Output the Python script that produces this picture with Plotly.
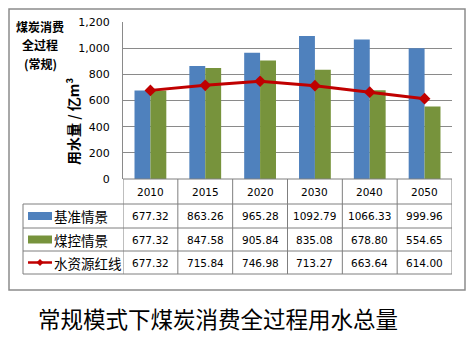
import plotly.graph_objects as go

years = ["2010", "2015", "2020", "2030", "2040", "2050"]
baseline = [677.32, 863.26, 965.28, 1092.79, 1066.33, 999.96]
controlled = [677.32, 847.58, 905.84, 835.08, 678.80, 554.65]
redline = [677.32, 715.84, 746.98, 713.27, 663.64, 614.00]
series_names = ["基准情景", "煤控情景", "水资源红线"]
y_ticks = [0, 200, 400, 600, 800, 1000, 1200]

BLUE = "#4F81BD"
GREEN = "#77933C"
RED = "#C00000"
GRID = "#8A8A8A"

W, H = 473, 341
L, R, T, B = 123, 21, 22, 162
PW = W - L - R
PH = H - T - B
PLOT_BOTTOM = H - B


def px(x):
    return (x - L) / PW


def py(y):
    return (PLOT_BOTTOM - y) / PH


fig = go.Figure()
fig.add_trace(go.Bar(x=years, y=baseline, name=series_names[0], marker_color=BLUE, marker_line_width=0))
fig.add_trace(go.Bar(x=years, y=controlled, name=series_names[1], marker_color=GREEN, marker_line_width=0))
fig.add_trace(go.Scatter(x=years, y=redline, name=series_names[2], mode="lines+markers",
                         line=dict(color=RED, width=3),
                         marker=dict(symbol="diamond", size=9, color=RED)))

shapes = []
annotations = []
line_style = dict(color="#7F7F7F", width=1)

row_edges = [PLOT_BOTTOM, 204, 228, 251, 274]
table_left = 23

for i, y in enumerate(row_edges):
    x0 = px(table_left) if i >= 1 else 0
    shapes.append(dict(type="line", xref="paper", yref="paper", x0=x0, x1=1, y0=py(y), y1=py(y), line=line_style))
for k in range(len(years) + 1):
    shapes.append(dict(type="line", xref="x", yref="paper", x0=k - 0.5, x1=k - 0.5,
                       y0=py(row_edges[0]), y1=py(row_edges[-1]), line=line_style))
shapes.append(dict(type="line", xref="paper", yref="paper", x0=px(table_left), x1=px(table_left),
                   y0=py(row_edges[1]), y1=py(row_edges[-1]), line=line_style))


def ann(x, y, text, font, xref="paper", xanchor="center", **kw):
    d = dict(x=x, xref=xref, y=y, yref="paper", text=text, showarrow=False,
             xanchor=xanchor, yanchor="middle", font=font)
    d.update(kw)
    annotations.append(d)


num_font = dict(family="DejaVu Sans", size=10.5, color="#000")
for i, yr in enumerate(years):
    ann(i, py((row_edges[0] + row_edges[1]) / 2), yr, num_font, xref="x")

rows = [baseline, controlled, redline]
for r, vals in enumerate(rows):
    yc = py((row_edges[r + 1] + row_edges[r + 2]) / 2)
    for i, v in enumerate(vals):
        ann(i, yc, f"{v:.2f}", num_font, xref="x")
    ann(px(52), yc, series_names[r], dict(family="Noto Sans CJK SC", size=13.5, color="#000"), xanchor="left")

for r, col in enumerate([BLUE, GREEN]):
    yc = (row_edges[r + 1] + row_edges[r + 2]) / 2
    shapes.append(dict(type="rect", xref="paper", yref="paper", x0=px(28), x1=px(52),
                       y0=py(yc + 4), y1=py(yc - 4), fillcolor=col, line=dict(width=0)))
yc = (row_edges[3] + row_edges[4]) / 2
shapes.append(dict(type="line", xref="paper", yref="paper", x0=px(28), x1=px(52), y0=py(yc), y1=py(yc),
                   line=dict(color=RED, width=2.5)))
cx = 40
shapes.append(dict(type="path", xref="paper", yref="paper",
                   path=f"M {px(cx-3.5)} {py(yc)} L {px(cx)} {py(yc-3.5)} L {px(cx+3.5)} {py(yc)} L {px(cx)} {py(yc+3.5)} Z",
                   fillcolor=RED, line=dict(width=0)))

shapes.append(dict(type="rect", xref="paper", yref="paper", x0=px(9), x1=px(465), y0=py(290), y1=py(9),
                   line=dict(color="#8C8C8C", width=1.5), fillcolor="rgba(0,0,0,0)"))

title_font = dict(family="Noto Sans CJK SC", size=12, color="#000")
for text, yline in [("煤炭消费", 26.5), ("全过程", 44.5), ("(常规)", 63)]:
    ann(px(40), py(yline), f"<b>{text}</b>", title_font)
ann(px(73), py(122), "<b>用水量 / 亿m³</b>",
    dict(family="Noto Sans CJK SC", size=14, color="#000"), textangle=-90)
ann(px(218), py(318), "常规模式下煤炭消费全过程用水总量",
    dict(family="Noto Sans CJK SC", size=22.5, color="#000"))

fig.update_layout(
    width=W, height=H,
    margin=dict(l=L, r=R, t=T, b=B),
    paper_bgcolor="white", plot_bgcolor="white",
    barmode="group", bargap=0.42, bargroupgap=0,
    showlegend=False,
    shapes=shapes, annotations=annotations,
    xaxis=dict(type="category", showticklabels=False, showgrid=False, zeroline=False,
               showline=False, range=[-0.5, 5.5], fixedrange=True),
    yaxis=dict(range=[0, 1200], tickvals=y_ticks, ticktext=[f"{v:,}" for v in y_ticks],
               showgrid=True, gridcolor=GRID, gridwidth=1, zeroline=False,
               showline=True, linecolor=GRID, linewidth=1, ticks="",
               ticklabelstandoff=10,
               tickfont=dict(family="DejaVu Sans", size=11, color="#000")),
)

fig.write_html("out.html")
